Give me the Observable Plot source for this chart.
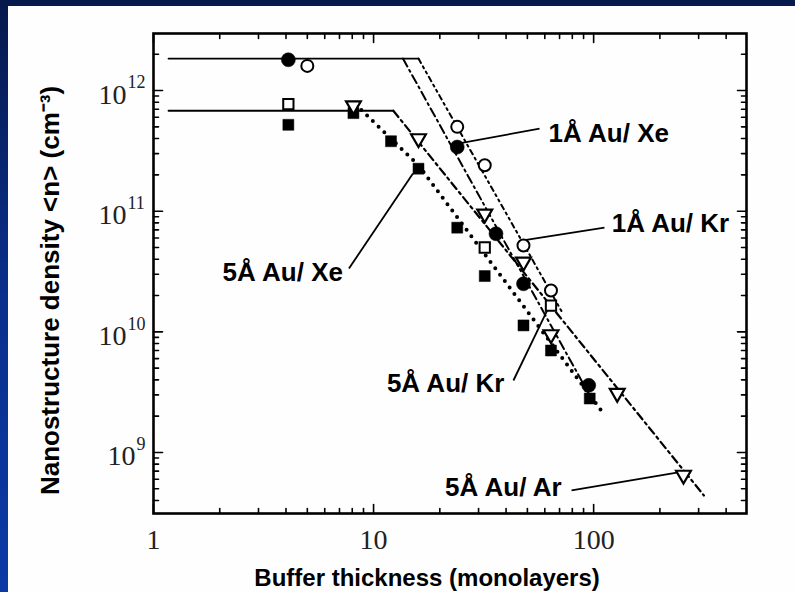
<!DOCTYPE html>
<html>
<head>
<meta charset="utf-8">
<script src="https://cdn.jsdelivr.net/npm/d3@7"></script>
<script src="https://cdn.jsdelivr.net/npm/@observablehq/plot@0.6"></script>
<style>
  html, body { margin: 0; padding: 0; }
  body { width: 795px; height: 592px; overflow: hidden; position: relative;
         background: linear-gradient(to bottom, #06194c 0%, #0a2f8c 50%, #0b3aa6 100%); }
  #panel { position: absolute; left: 8px; top: 6px; right: 0; bottom: 0; background: #fefefe; }
  #chart { position: absolute; left: 0; top: 0; }
  #chart svg { background: transparent !important; }
</style>
</head>
<body>
<div id="panel"></div>
<div id="chart"></div>
<script>
// ---- Data ----
// 1Å Au / Xe  (filled circles)
const au1Xe_x = [4.1, 24, 36, 48, 95];
const au1Xe_y = [1.8e12, 3.4e11, 6.5e10, 2.5e10, 3.6e9];
// 1Å Au / Kr  (open circles)
const au1Kr_x = [5.0, 24, 32, 48, 64];
const au1Kr_y = [1.6e12, 5.0e11, 2.4e11, 5.2e10, 2.2e10];
// 5Å Au / Xe  (filled squares)
const au5Xe_x = [4.1, 8.1, 12, 16, 24, 32, 48, 64, 96];
const au5Xe_y = [5.2e11, 6.5e11, 3.8e11, 2.25e11, 7.3e10, 2.9e10, 1.13e10, 7.0e9, 2.8e9];
// 5Å Au / Kr  (open squares)
const au5Kr_x = [4.1, 32, 64];
const au5Kr_y = [7.7e11, 5.0e10, 1.65e10];
// 5Å Au / Ar  (open down-triangles)
const au5Ar_x = [8.1, 16, 32, 48, 64, 128, 256];
const au5Ar_y = [7.5e11, 4.0e11, 9.5e10, 3.8e10, 9.5e9, 3.1e9, 6.5e8];

// Fit / guide lines
const sat1A_x = [1.17, 16];    const sat1A_y = [1.84e12, 1.84e12];
const sat5A_x = [1.17, 12.3];  const sat5A_y = [6.8e11, 6.8e11];
const fit1AXe_x = [13.6, 100]; const fit1AXe_y = [1.84e12, 2.6e9];
const fit1AKr_x = [16, 72];    const fit1AKr_y = [1.84e12, 1.45e10];
const fit5AAr_x = [12.3, 317]; const fit5AAr_y = [6.8e11, 4.4e8];
const fit5AXe_x = [8.8, 16, 111]; const fit5AXe_y = [6.9e11, 2.4e11, 2.1e9];

// Annotation labels and leaders
const labelText = ["1Å Au/ Xe", "1Å Au/ Kr", "5Å Au/ Xe", "5Å Au/ Kr", "5Å Au/ Ar"];
const labelX = [62.4, 120.8, 7.26, 39.3, 71.5];
const labelY = [4.4e11, 7.9e10, 3.1e10, 3.7e9, 5.1e8];
const labelAnchor = ["start", "start", "end", "end", "end"];
const leaderX1 = [56.8, 112, 7.73, 43.2, 79.4];
const leaderY1 = [4.84e11, 7.3e10, 3.35e10, 3.95e9, 4.86e8];
const leaderX2 = [24.5, 47, 15.1, 62.4, 239];
const leaderY2 = [3.64e11, 5.7e10, 2.05e11, 1.59e10, 6.8e8];

// Axes
const xDomain = [1, 495];
const yDomain = [3.12e8, 2.97e12];
const xMajor = [1, 10, 100];
const xMajorLabels = ["1", "10", "100"];
const xMinor = [2,3,4,5,6,7,8,9,20,30,40,50,60,70,80,90,200,300,400];
const yMajor = [1e9, 1e10, 1e11, 1e12];
const yMajorBase = ["10", "10", "10", "10"];
const yMajorExp = ["9", "10", "11", "12"];
const yMinor = [];
for (let e = 8; e <= 12; e++) for (let m = 2; m <= 9; m++) {
  const v = m * Math.pow(10, e);
  if (v > yDomain[0] && v < yDomain[1]) yMinor.push(v);
}
const xTitle = "Buffer thickness (monolayers)";
const yTitle = "Nanostructure density <n> (cm⁻³)";

// ---- Build tables ----
const pts = (xs, ys) => xs.map((x, i) => ({x, y: ys[i]}));
const labels = labelText.map((t, i) => ({text: t, x: labelX[i], y: labelY[i], anchor: labelAnchor[i],
  x1: leaderX1[i], y1: leaderY1[i], x2: leaderX2[i], y2: leaderY2[i]}));
const yLabels = yMajor.map((v, i) => ({y: v, base: yMajorBase[i], exp: yMajorExp[i]}));

const tickShape = {draw(context, l) { context.moveTo(0, 0); context.lineTo(0, -l); }};
const triDown = {draw(context, size) {
  const s = Math.sqrt(size) * 1.35;
  const h = s * Math.sqrt(3) / 2;
  context.moveTo(-s / 2, -h / 3);
  context.lineTo(s / 2, -h / 3);
  context.lineTo(0, 2 * h / 3);
  context.closePath();
}};

const xL = xDomain[0], xR = xDomain[1], yB = yDomain[0], yT = yDomain[1];
const sans = "'Liberation Sans', Arial, Helvetica, sans-serif";
const serif = "'Liberation Serif', 'Times New Roman', serif";
const expFont = 18, expCharW = 9, labelGap = 8;

function ticks(vals, len, side) {
  const common = {length: len, anchor: "start", shape: tickShape, stroke: "black", strokeWidth: 1.6};
  if (side === "left")   return Plot.vector(vals, {x: () => xL, y: d => d, rotate: 90, ...common});
  if (side === "right")  return Plot.vector(vals, {x: () => xR, y: d => d, rotate: -90, ...common});
  if (side === "bottom") return Plot.vector(vals, {x: d => d, y: () => yB, rotate: 0, ...common});
  return Plot.vector(vals, {x: d => d, y: () => yT, rotate: 180, ...common});
}

const marks = [
  // guide lines
  Plot.line(pts(sat1A_x, sat1A_y), {x: "x", y: "y", stroke: "black", strokeWidth: 1.8}),
  Plot.line(pts(sat5A_x, sat5A_y), {x: "x", y: "y", stroke: "black", strokeWidth: 1.8}),
  Plot.line(pts(fit1AXe_x, fit1AXe_y), {x: "x", y: "y", stroke: "black", strokeWidth: 2, strokeDasharray: "9,4,2,4"}),
  Plot.line(pts(fit1AKr_x, fit1AKr_y), {x: "x", y: "y", stroke: "black", strokeWidth: 2, strokeDasharray: "5,4,2,4,2,4"}),
  Plot.line(pts(fit5AAr_x, fit5AAr_y), {x: "x", y: "y", stroke: "black", strokeWidth: 2.2, strokeDasharray: "8,4,2.5,4"}),
  Plot.line(pts(fit5AXe_x, fit5AXe_y), {x: "x", y: "y", stroke: "black", strokeWidth: 4, strokeDasharray: "0,8", strokeLinecap: "round"}),
  // leaders
  Plot.link(labels, {x1: "x1", y1: "y1", x2: "x2", y2: "y2", stroke: "black", strokeWidth: 1.8}),
  // data points
  Plot.dot(pts(au5Xe_x, au5Xe_y), {x: "x", y: "y", symbol: "square", r: 6.2, fill: "black", stroke: "black", strokeWidth: 0.5}),
  Plot.dot(pts(au5Kr_x, au5Kr_y), {x: "x", y: "y", symbol: "square", r: 5.8, fill: "white", stroke: "black", strokeWidth: 2}),
  Plot.dot(pts(au1Xe_x, au1Xe_y), {x: "x", y: "y", symbol: "circle", r: 7, fill: "black", stroke: "black", strokeWidth: 0.5}),
  Plot.dot(pts(au1Kr_x, au1Kr_y), {x: "x", y: "y", symbol: "circle", r: 6, fill: "white", stroke: "black", strokeWidth: 2}),
  Plot.dot(pts(au5Ar_x, au5Ar_y), {x: "x", y: "y", symbol: triDown, r: 6.2, fill: "white", stroke: "black", strokeWidth: 2.2}),
  // labels
  Plot.text(labels.filter(d => d.anchor === "start"), {x: "x", y: "y", text: "text", textAnchor: "start", fontSize: 26, fontWeight: "bold", fontFamily: sans, fill: "black"}),
  Plot.text(labels.filter(d => d.anchor === "end"), {x: "x", y: "y", text: "text", textAnchor: "end", fontSize: 26, fontWeight: "bold", fontFamily: sans, fill: "black"}),
  // frame and ticks
  Plot.frame({stroke: "black", strokeWidth: 2.6}),
  ticks(yMajor, 9, "left"), ticks(yMinor, 5, "left"),
  ticks(yMajor, 9, "right"), ticks(yMinor, 5, "right"),
  ticks(xMajor, 9, "bottom"), ticks(xMinor, 5, "bottom"),
  ticks(xMajor, 9, "top"), ticks(xMinor, 5, "top"),
  // tick labels
  Plot.text(xMajor, {x: d => d, y: () => yB, text: (d, i) => xMajorLabels[i], dy: 27, fontSize: 28, fontFamily: serif, fill: "#222"}),
  // axis titles
  Plot.text([xTitle], {x: () => 17.5, y: () => yB, text: d => d, dy: 65, fontSize: 24, fontWeight: "bold", fontFamily: sans, fill: "black"}),
  Plot.text([yTitle], {x: () => xL, y: () => 2.2e10, text: d => d, rotate: -90, dx: -103, fontSize: 26, fontWeight: "bold", fontFamily: sans, fill: "black"})
];
// y tick labels: base "10" and superscript exponent, one text mark per label so each can be offset
yLabels.forEach(d => {
  const w = d.exp.length * expCharW;
  marks.push(Plot.text([d], {x: () => xL, y: "y", text: "base", textAnchor: "end", dx: -(labelGap + w + 1), dy: 4, fontSize: 28, fontFamily: serif, fill: "#222"}));
  marks.push(Plot.text([d], {x: () => xL, y: "y", text: "exp", textAnchor: "start", dx: -(labelGap + w), dy: -8, fontSize: expFont, fontFamily: serif, fill: "#222"}));
});

const chart = Plot.plot({
  width: 795,
  height: 592,
  marginLeft: 153,
  marginRight: 49,
  marginTop: 33,
  marginBottom: 79,
  style: {background: "transparent", overflow: "visible"},
  x: {type: "log", domain: xDomain, axis: null},
  y: {type: "log", domain: yDomain, axis: null},
  marks
});
document.getElementById("chart").appendChild(chart);
</script>
</body>
</html>
